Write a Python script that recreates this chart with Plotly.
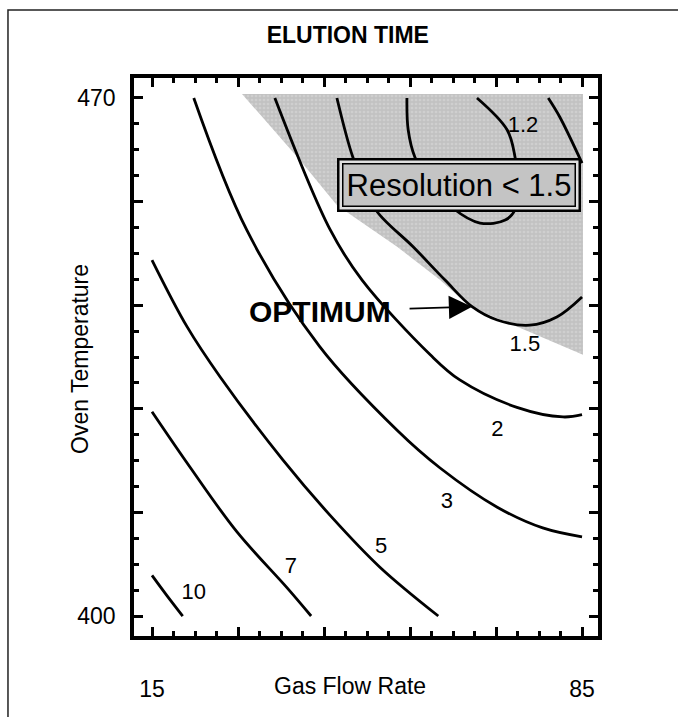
import plotly.graph_objects as go

FONT = "Liberation Sans, Arial, Helvetica, sans-serif"

# ---- axis ticks / labels ----
x_major = [15, 29, 43, 57, 71, 85]
x_major_text = ["15", "", "", "", "", "85"]
y_major = [400, 414, 428, 442, 456, 470]
y_major_text = ["400", "", "", "", "", "470"]

# ---- elution-time contour lines (Gas Flow Rate, Oven Temperature) ----
c10_x = [15.0, 17.4, 20.0]
c10_y = [405.5, 402.8, 400.0]
c7_x = [15.0, 21.2, 28.8, 37.0, 40.9]
c7_y = [427.6, 420.1, 411.4, 403.8, 400.0]
c5_x = [15.0, 20.7, 26.1, 36.3, 44.0, 52.1, 61.6]
c5_y = [448.1, 439.1, 432.3, 421.1, 413.6, 406.6, 400.0]
c3_x = [21.8, 30.4, 42.3, 54.9, 61.9, 71.2, 78.6, 85.0]
c3_y = [470.0, 452.2, 436.4, 425.1, 420.0, 414.7, 411.9, 410.7]
c2_x = [35.0, 44.0, 49.2, 60.3, 65.1, 74.4, 81.9, 85.0]
c2_y = [470.0, 452.2, 445.4, 435.3, 431.9, 428.2, 426.9, 427.2]
c15_x = [45.1, 47.7, 49.7, 51.6, 57.5, 62.7, 67.1, 71.2, 76.5, 80.9, 85.0]
c15_y = [470.0, 462.0, 458.2, 454.7, 449.9, 445.4, 441.8, 440.0, 439.3, 440.4, 443.1]
c12_x = [56.5, 56.7, 57.8, 60.6, 64.0, 68.4, 72.5, 74.1, 74.6, 74.1, 72.8, 67.9]
c12_y = [470.0, 465.7, 462.0, 458.2, 455.1, 453.1, 453.5, 454.9, 458.2, 462.0, 465.7, 470.0]
cedge_x = [79.5, 81.4, 85.0]
cedge_y = [470.0, 467.4, 461.2]

contours = [
    (c10_x, c10_y), (c7_x, c7_y), (c5_x, c5_y), (c3_x, c3_y),
    (c2_x, c2_y), (c15_x, c15_y), (c12_x, c12_y), (cedge_x, cedge_y),
]

# contour labels
label_text = ["10", "7", "5", "3", "2", "1.5", "1.2"]
label_x = [21.8, 37.6, 52.3, 63.0, 71.2, 75.7, 75.4]
label_y = [403.0, 406.6, 409.3, 415.3, 425.1, 436.6, 466.1]

# region where resolution < 1.5
shade_x = [29.65, 39.1, 45.1, 54.9, 61.9, 66.8, 85.15, 85.15, 29.65]
shade_y = [470.55, 461.6, 455.5, 449.9, 445.4, 441.8, 435.3, 470.55, 470.55]

fig = go.Figure()

fig.add_trace(go.Scatter(
    x=shade_x, y=shade_y, mode="lines", fill="toself",
    fillcolor="#c6c6c6", line=dict(width=0, color="#c6c6c6"),
    fillpattern=dict(shape=".", bgcolor="#c2c2c2", fgcolor="#dcdcdc",
                     size=4, solidity=0.35),
    hoverinfo="skip", showlegend=False,
))

for cx, cy in contours:
    fig.add_trace(go.Scatter(
        x=cx, y=cy, mode="lines",
        line=dict(color="black", width=2.8, shape="spline", smoothing=1.0),
        hoverinfo="skip", showlegend=False,
    ))

fig.add_trace(go.Scatter(
    x=label_x, y=label_y, mode="text", text=label_text,
    textfont=dict(family=FONT, size=22, color="black"),
    hoverinfo="skip", showlegend=False,
))

axis_common = dict(
    showgrid=False, zeroline=False,
    showline=True, linecolor="black", linewidth=3.5,
    mirror="ticks", ticks="inside", ticklen=9, tickwidth=2.5, tickcolor="black",
    tickfont=dict(family=FONT, size=23, color="black"),
)

fig.update_xaxes(
    range=[12.07, 87.60], tickmode="array", tickvals=x_major, ticktext=x_major_text,
    ticklabelstandoff=30,
    minor=dict(ticks="inside", tick0=15, dtick=3.5, ticklen=5, tickwidth=2.5, tickcolor="black"),
    **axis_common,
)
fig.update_yaxes(
    range=[397.30, 472.70], tickmode="array", tickvals=y_major, ticktext=y_major_text,
    ticklabelstandoff=10,
    minor=dict(ticks="inside", tick0=400, dtick=3.5, ticklen=5, tickwidth=2.5, tickcolor="black"),
    **axis_common,
)

annotations = [
    dict(text="Gas Flow Rate", xref="paper", yref="paper", x=0.4655, y=-0.0896,
         xanchor="center", yanchor="middle", showarrow=False,
         font=dict(family=FONT, size=23, color="black")),
    dict(text="Oven Temperature", xref="paper", yref="paper", x=-0.1164, y=0.4964,
         xanchor="center", yanchor="middle", showarrow=False, textangle=-90,
         font=dict(family=FONT, size=23, color="black")),
    # outer frame of the label box
    dict(text=" ", x=64.9, y=458.3, xref="x", yref="y", showarrow=False,
         width=239, height=49, bgcolor="#e0e0e0", bordercolor="black",
         borderwidth=2.5, borderpad=0, xanchor="center", yanchor="middle",
         font=dict(family=FONT, size=10)),
    dict(text="Resolution < 1.5", x=64.9, y=458.3, xref="x", yref="y", showarrow=False,
         width=231, height=41, bgcolor="#c4c4c4", bordercolor="black",
         borderwidth=1.5, borderpad=0, xanchor="center", yanchor="middle",
         font=dict(family=FONT, size=31, color="black")),
    dict(text="<b>OPTIMUM</b>", x=42.35, y=441.2, xref="x", yref="y", showarrow=False,
         xanchor="center", yanchor="middle",
         font=dict(family=FONT, size=30, color="black")),
    dict(text="", x=67.1, y=441.8, xref="x", yref="y", showarrow=True,
         ax=-64, ay=2, axref="pixel", ayref="pixel",
         arrowhead=2, arrowsize=2.9, arrowwidth=1.6, arrowcolor="black", standoff=0),
]

fig.update_layout(
    width=678, height=717,
    margin=dict(l=134, r=80, t=78, b=81),
    paper_bgcolor="white", plot_bgcolor="white",
    title=dict(text="<b>ELUTION TIME</b>", x=0.513, xanchor="center",
               y=1 - 35 / 717, yanchor="middle", yref="container",
               font=dict(family=FONT, size=23, color="black")),
    annotations=annotations,
    shapes=[dict(type="rect", xref="paper", yref="paper",
                 x0=-0.2716, y0=1.1219, x1=1.6, y1=-0.5,
                 line=dict(color="#222222", width=1.5), layer="above")],
    showlegend=False,
)

fig.write_html("out.html")
